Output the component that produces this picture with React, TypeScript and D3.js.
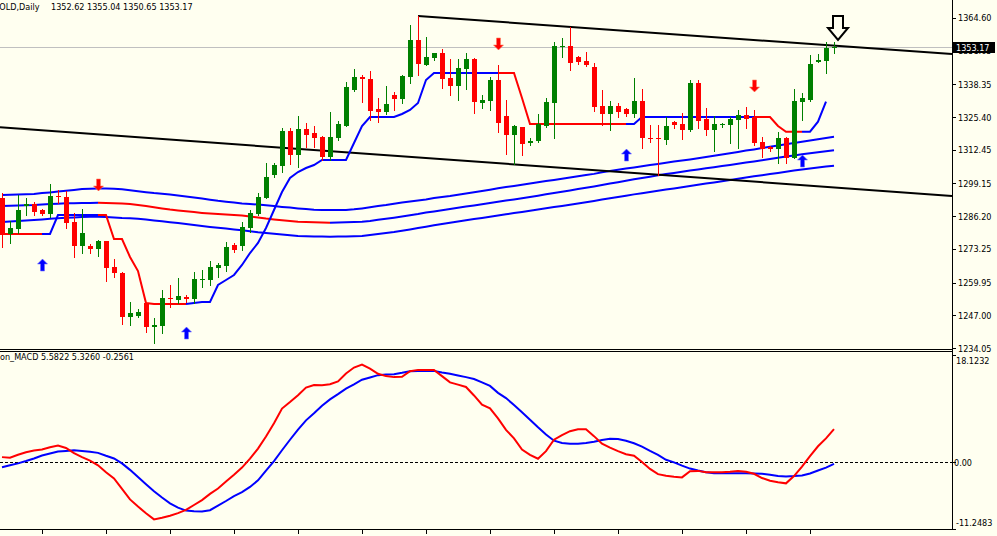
import * as d3 from "d3";

// GOLD daily candles, bar 0 .. bar 104 (last bar is the live one)
const openP = [
  1293.27, 1279.15, 1281.13, 1290.23, 1291.02, 1288.64, 1286.94, 1294.18, 1293.67, 1284.02,
  1274.4, 1274.4, 1273.33, 1276.5, 1265.98, 1263.84, 1246.43, 1246.83, 1251.73, 1242.48,
  1242.87, 1253.95, 1253.04, 1254.11, 1253.32, 1261.0, 1260.95, 1265.82, 1266.61, 1274.8,
  1274.4, 1281.4, 1287.06, 1293.27, 1302.49, 1306.05, 1320.01, 1310.4, 1320.81, 1319.22,
  1317.64, 1309.73, 1317.25, 1322.0, 1336.12, 1341.38, 1340.47, 1328.48, 1327.53, 1334.14,
  1332.56, 1341.38, 1355.9, 1346.0, 1348.89, 1350.87, 1340.74, 1337.7, 1344.3, 1348.26,
  1331.09, 1331.76, 1340.07, 1325.83, 1318.31, 1321.6, 1315.27, 1316.06, 1321.87, 1331.09,
  1353.25, 1353.52, 1349.05, 1347.71, 1345.33, 1329.79, 1326.5, 1329.9, 1328.72, 1326.5,
  1331.88, 1317.25, 1317.25, 1316.34, 1323.34, 1322.67, 1320.29, 1339.0, 1324.52, 1320.29,
  1322.27, 1322.27, 1324.25, 1326.23, 1325.55, 1315.43, 1313.45, 1312.66, 1317.01, 1309.34,
  1331.49, 1332.16, 1347.31, 1347.71, 1352.62,
];
const highP = [
  1295.37, 1284.41, 1294.58, 1293.39, 1291.93, 1289.04, 1298.93, 1296.56, 1296.28, 1287.46,
  1288.92, 1275.19, 1276.78, 1276.5, 1269.14, 1264.0, 1252.37, 1249.36, 1251.85, 1245.8,
  1257.0, 1258.97, 1261.62, 1255.02, 1264.24, 1264.91, 1268.59, 1267.56, 1276.1, 1275.59,
  1284.02, 1288.64, 1295.25, 1307.12, 1307.36, 1320.96, 1321.2, 1325.83, 1322.94, 1321.87,
  1317.92, 1327.53, 1323.85, 1339.4, 1344.31, 1342.05, 1343.63, 1332.83, 1337.7, 1335.44,
  1342.05, 1361.83, 1365.39, 1357.2, 1350.87, 1352.22, 1348.26, 1348.26, 1350.87, 1348.66,
  1334.14, 1341.38, 1346.0, 1332.16, 1322.27, 1321.6, 1317.01, 1326.62, 1332.83, 1355.22,
  1356.57, 1361.16, 1349.57, 1351.27, 1346.68, 1336.12, 1331.88, 1330.85, 1329.11, 1340.74,
  1336.39, 1322.27, 1322.27, 1325.32, 1323.85, 1327.14, 1340.07, 1340.07, 1328.88, 1325.83,
  1323.18, 1325.55, 1328.2, 1329.51, 1328.2, 1317.64, 1313.96, 1319.62, 1317.64, 1336.51,
  1334.81, 1349.96, 1350.24, 1355.22, 1355.04,
];
const lowP = [
  1274.12, 1275.71, 1279.43, 1286.67, 1286.67, 1286.67, 1285.99, 1291.29, 1281.64, 1269.93,
  1271.51, 1271.51, 1270.45, 1260.67, 1262.26, 1243.55, 1243.15, 1246.43, 1240.5, 1236.15,
  1239.87, 1250.15, 1251.73, 1252.25, 1251.73, 1258.3, 1258.97, 1262.26, 1264.63, 1272.03,
  1272.82, 1280.06, 1286.67, 1293.27, 1301.82, 1303.79, 1306.84, 1305.54, 1313.45, 1313.69,
  1308.42, 1308.42, 1316.34, 1322.0, 1335.72, 1331.49, 1324.25, 1323.58, 1326.62, 1328.2,
  1331.09, 1339.0, 1342.05, 1346.0, 1347.98, 1337.03, 1334.14, 1332.16, 1336.51, 1327.14,
  1328.88, 1328.2, 1319.62, 1310.8, 1306.84, 1310.4, 1314.36, 1315.66, 1321.6, 1317.25,
  1349.29, 1344.03, 1346.4, 1345.73, 1327.93, 1322.27, 1320.29, 1325.32, 1325.83, 1325.55,
  1313.05, 1315.43, 1302.49, 1314.75, 1320.96, 1316.73, 1320.01, 1320.96, 1318.31, 1312.1,
  1321.6, 1315.03, 1313.29, 1320.96, 1314.36, 1309.73, 1311.99, 1307.12, 1307.12, 1309.1,
  1324.25, 1331.88, 1347.31, 1342.96, 1350.65,
];
const closeP = [
  1278.75, 1281.4, 1288.64, 1291.02, 1287.97, 1286.94, 1294.18, 1293.67, 1283.62, 1274.4,
  1279.66, 1273.33, 1276.5, 1265.82, 1263.6, 1246.43, 1247.78, 1248.41, 1242.48, 1243.15,
  1253.71, 1253.32, 1254.62, 1253.43, 1261.23, 1261.47, 1265.98, 1266.89, 1273.89, 1272.82,
  1282.04, 1287.58, 1293.91, 1301.82, 1306.45, 1320.01, 1310.4, 1320.81, 1318.31, 1317.25,
  1309.73, 1317.64, 1322.67, 1337.42, 1341.38, 1340.35, 1327.93, 1327.53, 1330.58, 1332.56,
  1341.77, 1355.9, 1346.28, 1349.29, 1350.87, 1340.47, 1337.7, 1344.7, 1348.26, 1331.49,
  1332.16, 1340.07, 1323.18, 1318.31, 1321.87, 1314.75, 1315.94, 1322.67, 1331.25, 1353.52,
  1353.64, 1346.92, 1347.07, 1346.0, 1329.51, 1326.5, 1329.9, 1327.53, 1326.5, 1331.88,
  1317.01, 1316.85, 1316.61, 1321.87, 1322.27, 1320.29, 1338.77, 1323.97, 1320.29, 1322.67,
  1322.67, 1324.64, 1326.23, 1324.64, 1315.03, 1312.66, 1312.66, 1317.01, 1309.1, 1331.76,
  1332.83, 1346.4, 1347.98, 1352.85, 1353.17,
];

// envelope bands
const upperBand = [
  1294.58, 1294.7, 1294.78, 1294.89, 1294.97, 1295.33, 1295.61, 1295.92, 1296.24, 1296.6,
  1296.91, 1297.07, 1297.19, 1297.15, 1297.03, 1296.83, 1296.44, 1296.04, 1295.69, 1295.33,
  1295.05, 1294.74, 1294.38, 1294.02, 1293.59, 1293.15, 1292.72, 1292.28, 1291.93, 1291.57,
  1291.25, 1291.02, 1290.78, 1290.5, 1290.19, 1289.87, 1289.59, 1289.28, 1289.0, 1288.72,
  1288.64, 1288.64, 1288.64, 1288.64, 1288.92, 1289.28, 1289.71, 1290.19, 1290.62, 1291.14,
  1291.57, 1291.97, 1292.36, 1292.8, 1293.39, 1293.79, 1294.18, 1294.66, 1295.13, 1295.65,
  1296.16, 1296.67, 1297.23, 1297.7, 1298.18, 1298.65, 1299.13, 1299.6, 1300.08, 1300.55,
  1301.03, 1301.5, 1301.98, 1302.45, 1302.93, 1303.6, 1304.07, 1304.55, 1305.02, 1305.5,
  1305.97, 1306.45, 1306.88, 1307.32, 1307.79, 1308.23, 1308.66, 1309.1, 1309.61, 1310.09,
  1310.6, 1311.11, 1311.63, 1312.14, 1312.62, 1313.13, 1313.65, 1314.16, 1314.67, 1315.19,
  1315.66, 1316.14, 1316.61, 1317.13, 1317.6,
];
const midBand = [
  1290.23, 1290.35, 1290.42, 1290.54, 1290.62, 1290.82, 1290.98, 1291.14, 1291.29, 1291.33,
  1291.41, 1291.45, 1291.53, 1291.41, 1291.33, 1291.18, 1290.98, 1290.62, 1290.19, 1289.71,
  1289.24, 1288.8, 1288.45, 1288.13, 1287.81, 1287.5, 1287.26, 1287.02, 1286.82, 1286.67,
  1286.43, 1286.03, 1285.64, 1285.24, 1284.92, 1284.61, 1284.29, 1284.02, 1283.9, 1283.82,
  1283.7, 1283.62, 1283.7, 1283.82, 1283.9, 1284.02, 1284.33, 1284.77, 1285.16, 1285.6,
  1286.07, 1286.55, 1287.02, 1287.62, 1288.09, 1288.57, 1289.04, 1289.51, 1289.99, 1290.46,
  1290.94, 1291.41, 1291.89, 1292.36, 1292.84, 1293.31, 1293.79, 1294.3, 1294.85, 1295.37,
  1295.88, 1296.4, 1296.91, 1297.43, 1297.94, 1298.49, 1299.09, 1299.64, 1300.2, 1300.79,
  1301.3, 1301.82, 1302.37, 1302.85, 1303.32, 1303.8, 1304.27, 1304.71, 1305.14, 1305.58,
  1306.01, 1306.45, 1306.92, 1307.4, 1307.87, 1308.35, 1308.82, 1309.29, 1309.77, 1310.24,
  1310.68, 1311.07, 1311.47, 1311.87, 1312.3,
];
const lowerBand = [
  1283.94, 1284.13, 1284.33, 1284.53, 1284.69, 1284.92, 1285.16, 1285.36, 1285.56, 1285.72,
  1285.87, 1285.95, 1285.99, 1285.87, 1285.72, 1285.52, 1285.4, 1285.16, 1284.85, 1284.53,
  1284.17, 1283.82, 1283.46, 1283.11, 1282.67, 1282.27, 1281.92, 1281.6, 1281.29, 1280.97,
  1280.61, 1280.26, 1279.86, 1279.55, 1279.23, 1278.95, 1278.64, 1278.36, 1278.28, 1278.2,
  1278.16, 1278.08, 1278.16, 1278.2, 1278.28, 1278.36, 1278.71, 1279.11, 1279.51, 1279.9,
  1280.42, 1280.97, 1281.48, 1282.04, 1282.59, 1283.11, 1283.62, 1284.1, 1284.57, 1285.04,
  1285.52, 1285.99, 1286.47, 1286.94, 1287.42, 1287.89, 1288.37, 1288.84, 1289.32, 1289.79,
  1290.27, 1290.74, 1291.22, 1291.73, 1292.24, 1292.76, 1293.27, 1293.79, 1294.3, 1294.82,
  1295.29, 1295.76, 1296.24, 1296.71, 1297.19, 1297.66, 1298.14, 1298.61, 1299.09, 1299.56,
  1300.04, 1300.51, 1300.99, 1301.5, 1301.98, 1302.41, 1302.85, 1303.28, 1303.76, 1304.23,
  1304.67, 1305.06, 1305.46, 1305.81, 1306.17,
];

// trailing stop line (bars 0..103) and the bars where its trend flips
const stopLine = [
  1279.15, 1279.15, 1279.15, 1279.15, 1279.15, 1279.15, 1279.15, 1286.67, 1286.67, 1286.67,
  1286.67, 1286.67, 1286.67, 1286.67, 1277.17, 1277.17, 1270.05, 1264.51, 1251.85, 1251.46,
  1251.46, 1251.46, 1251.46, 1251.46, 1251.85, 1252.25, 1252.25, 1258.97, 1260.95, 1262.93,
  1266.89, 1271.63, 1275.59, 1281.52, 1288.64, 1295.76, 1301.3, 1303.68, 1305.26, 1306.45,
  1308.42, 1308.42, 1308.42, 1308.42, 1315.15, 1321.87, 1325.43, 1325.43, 1325.43, 1325.43,
  1326.62, 1328.2, 1330.97, 1340.07, 1342.84, 1342.84, 1342.84, 1342.84, 1342.84, 1342.84,
  1342.84, 1342.84, 1342.84, 1342.84, 1342.84, 1332.95, 1322.67, 1322.67, 1322.67, 1322.67,
  1322.67, 1322.67, 1322.67, 1322.67, 1322.67, 1322.67, 1322.67, 1322.67, 1322.67, 1322.67,
  1325.43, 1325.43, 1325.43, 1325.43, 1325.43, 1325.43, 1325.43, 1325.43, 1325.43, 1325.43,
  1325.43, 1325.43, 1325.43, 1325.43, 1325.43, 1325.43, 1325.43, 1321.87, 1319.62, 1319.62,
  1319.62, 1319.62, 1323.58, 1331.49,
];
const stopFlips: [number, number][] = [
  [0, -1], [6, 1], [13, -1], [24, 1], [63, -1], [79, 1], [95, -1], [101, 1],
];

// signal arrows
const buyBars = [5, 23, 78, 100];
const buyPrices = [1266.89, 1239.99, 1310.4, 1308.03];
const sellBars = [12, 62, 94];
const sellPrices = [1298.53, 1354.31, 1337.7];
const markBar = 104.5;
const markPrice = 1355.9;

// hand drawn trend lines: [bar, price]
const trendTop: [number, number][] = [[52, 1365.39], [104, 1353.64]];
const trendBottom: [number, number][] = [[0, 1321.28], [104, 1297.59]];

// MACD panel
const macdMain = [
  0.87, 0.76, 1.26, 1.7, 1.98, 2.15, 2.53, 2.81, 2.42, 1.54,
  0.87, 0.27, -0.51, -1.67, -2.72, -4.49, -6.26, -7.47, -8.58, -9.63,
  -9.35, -9.02, -8.58, -8.03, -7.2, -6.37, -5.32, -4.43, -3.22, -2.11,
  -0.89, 0.6, 2.31, 4.36, 6.57, 9.06, 10.16, 11.32, 12.59, 13.04,
  12.98, 13.15, 13.64, 14.97, 15.97, 16.46, 15.8, 14.92, 14.53, 14.36,
  14.42, 15.36, 15.58, 15.58, 15.58, 14.53, 13.48, 13.09, 12.7, 11.27,
  9.72, 9.11, 7.4, 5.46, 4.03, 2.15, 1.26, 0.6, 1.87, 3.8,
  4.58, 5.24, 5.57, 5.57, 4.41, 3.14, 2.48, 1.87, 1.37, 1.1,
  0.04, -1.12, -2.0, -2.28, -2.44, -2.55, -1.5, -1.45, -1.67, -1.67,
  -1.67, -1.61, -1.45, -1.61, -1.94, -2.66, -3.11, -3.38, -3.55, -2.33,
  -0.73, 1.04, 2.7, 4.03, 5.58,
];
const macdSignal = [
  -0.84, -0.51, -0.18, 0.21, 0.65, 1.15, 1.48, 1.81, 1.92, 2.03,
  1.92, 1.76, 1.59, 1.1, 0.65, -0.18, -1.28, -2.5, -3.71, -4.87,
  -5.93, -6.92, -7.64, -8.14, -8.25, -8.3, -8.08, -7.31, -6.53, -5.7,
  -5.04, -4.16, -3.05, -1.39, 0.21, 2.03, 3.8, 5.52, 7.07, 8.28,
  9.55, 10.6, 11.49, 12.43, 13.15, 13.92, 14.31, 14.69, 14.8, 14.86,
  15.08, 15.36, 15.41, 15.41, 15.41, 15.14, 14.92, 14.64, 14.36, 14.03,
  13.48, 12.87, 11.71, 10.82, 9.66, 8.45, 7.18, 5.9, 4.69, 3.64,
  3.25, 3.14, 3.14, 3.25, 3.47, 3.75, 3.97, 3.92, 3.64, 3.2,
  2.64, 1.92, 1.26, 0.43, -0.01, -0.56, -1.06, -1.39, -1.67, -1.83,
  -1.83, -1.83, -1.83, -1.83, -1.89, -1.94, -2.11, -2.33, -2.39, -2.33,
  -2.22, -1.89, -1.39, -0.89, -0.26,
];
// indicator readout shown in the panel header
const macdReadout = ["5.5822", "5.3260", "-0.2561"];

const priceTicks = [1364.6, 1351.65, 1338.35, 1325.4, 1312.45, 1299.15, 1286.2, 1273.25, 1259.95, 1247.0, 1234.05];
const macdTicks = [18.1232, 0, -11.2483];
const timeTickBars = [-3, 5, 13, 21, 29, 37, 45, 53, 61, 69, 77, 85, 93, 101];
const timeTickLabels = [
  "14 Nov 2017", "24 Nov 2017", "6 Dec 2017", "14 Dec 2017", "26 Dec 2017", "5 Jan 2018", "16 Jan 2018",
  "26 Jan 2018", "7 Feb 2018", "19 Feb 2018", "1 Mar 2018", "13 Mar 2018", "23 Mar 2018", "4 Apr 2018",
];

const W = 997;
const H = 536;
const AXIS_X = 952;
const BG = "#FFFFF0";
const FONT = "Tahoma, 'DejaVu Sans Condensed', 'Liberation Sans', sans-serif";

const x = d3.scaleLinear().domain([0, 104]).range([2, 834]);
const y = d3.scaleLinear().domain([1234.05, 1371.72]).range([348, 0]);
const ym = d3.scaleLinear().domain([-11.2483, 18.1232]).range([529, 354.8]);

// split a series into same-coloured runs; segment i-1 -> i takes colourOf(i)
function colouredRuns(values: number[], colourOf: (i: number) => string, sy: (v: number) => number) {
  const line = d3.line<[number, number]>().x((d) => x(d[0])).y((d) => sy(d[1]));
  const out: { colour: string; d: string }[] = [];
  let pts: [number, number][] = [[0, values[0]]];
  let cur = colourOf(1);
  for (let i = 1; i < values.length; i++) {
    const c = colourOf(i);
    if (c !== cur) {
      out.push({ colour: cur, d: line(pts) ?? "" });
      pts = [[i - 1, values[i - 1]]];
      cur = c;
    }
    pts.push([i, values[i]]);
  }
  out.push({ colour: cur, d: line(pts) ?? "" });
  return out;
}

function stopDir(i: number) {
  let dir = -1;
  for (const [b, d] of stopFlips) if (i >= b) dir = d;
  return dir;
}

function trendPath(pts: [number, number][], fromBar: number) {
  const [[b0, p0], [b1, p1]] = pts;
  const slope = (p1 - p0) / (b1 - b0);
  const endBar = x.invert(AXIS_X);
  const s = Math.max(fromBar, x.invert(0));
  return `M${x(s)},${y(p0 + slope * (s - b0))}L${x(endBar)},${y(p0 + slope * (endBar - b0))}`;
}

function upArrow(cx: number, cy: number) {
  return `M${cx},${cy - 6}L${cx + 5},${cy - 1}L${cx + 2},${cy - 1}L${cx + 2},${cy + 6}L${cx - 2},${cy + 6}L${cx - 2},${cy - 1}L${cx - 5},${cy - 1}Z`;
}
function downArrow(cx: number, cy: number) {
  return `M${cx},${cy + 6}L${cx + 5},${cy + 1}L${cx + 2},${cy + 1}L${cx + 2},${cy - 6}L${cx - 2},${cy - 6}L${cx - 2},${cy + 1}L${cx - 5},${cy + 1}Z`;
}

export default function App() {
  const priceLine = d3.line<number>().x((_, i) => x(i)).y((d) => y(d));
  const macdLine = d3.line<number>().x((_, i) => x(i)).y((d) => ym(d));

  const midRuns = colouredRuns(midBand, (i) => (midBand[i] >= midBand[i - 1] ? "#0000FF" : "#FF0000"), y);
  const stopRuns = colouredRuns(stopLine, (i) => (stopDir(i) > 0 ? "#0000FF" : "#FF0000"), y);

  const last = closeP[closeP.length - 1];
  const mx = x(markBar);
  const mTip = y(markPrice);

  return (
    <svg width={W} height={H} style={{ position: "absolute", left: 0, top: 0, background: BG }} fontFamily={FONT}>
      <defs>
        <clipPath id="pricePane">
          <rect x={0} y={0} width={AXIS_X} height={349} />
        </clipPath>
        <clipPath id="macdPane">
          <rect x={0} y={352} width={AXIS_X} height={177} />
        </clipPath>
      </defs>
      <rect x={0} y={0} width={W} height={H} fill={BG} />

      {/* header */}
      <text x={-7} y={10} fontSize={9} fill="#000">
        GOLD,Daily
      </text>
      <text x={51} y={10} fontSize={9} fill="#000">
        {`${openP[104].toFixed(2)} ${highP[104].toFixed(2)} ${lowP[104].toFixed(2)} ${last.toFixed(2)}`}
      </text>

      <g clipPath="url(#pricePane)">
        {/* current price line */}
        <line x1={0} x2={AXIS_X} y1={Math.round(y(last)) + 0.5} y2={Math.round(y(last)) + 0.5} stroke="#C0C0C0" />

        {/* bands */}
        <path d={priceLine(upperBand) ?? ""} fill="none" stroke="#0000FF" strokeWidth={2} />
        <path d={priceLine(lowerBand) ?? ""} fill="none" stroke="#0000FF" strokeWidth={2} />
        {midRuns.map((r, i) => (
          <path key={"m" + i} d={r.d} fill="none" stroke={r.colour} strokeWidth={2} />
        ))}

        {/* trend lines */}
        <path d={trendPath(trendTop, trendTop[0][0])} stroke="#000" strokeWidth={2} fill="none" />
        <path d={trendPath(trendBottom, -10)} stroke="#000" strokeWidth={2} fill="none" />

        {/* stop line */}
        {stopRuns.map((r, i) => (
          <path key={"s" + i} d={r.d} fill="none" stroke={r.colour} strokeWidth={2} />
        ))}

        {/* candles */}
        {closeP.map((c, i) => {
          const o = openP[i];
          const col = c >= o ? "#008000" : "#FF0000";
          const cx = Math.round(x(i));
          const top = Math.round(y(Math.max(o, c)));
          const bot = Math.round(y(Math.min(o, c)));
          return (
            <g key={"c" + i}>
              <line x1={cx + 0.5} x2={cx + 0.5} y1={Math.round(y(highP[i]))} y2={Math.round(y(lowP[i])) + 1} stroke={col} />
              <rect x={cx - 2} y={top} width={5} height={Math.max(1, bot - top)} fill={col} />
            </g>
          );
        })}

        {/* arrows */}
        {buyBars.map((b, i) => (
          <path key={"b" + i} d={upArrow(x(b) + 0.5, y(buyPrices[i]))} fill="#0000FF" stroke="#7070FF" strokeWidth={0.6} />
        ))}
        {sellBars.map((b, i) => (
          <path key={"r" + i} d={downArrow(x(b) + 0.5, y(sellPrices[i]))} fill="#FF0000" stroke="#FF8060" strokeWidth={0.6} />
        ))}
        <path
          d={`M${mx - 5},${mTip - 24}L${mx + 5},${mTip - 24}L${mx + 5},${mTip - 12}L${mx + 10},${mTip - 12}L${mx},${mTip}L${mx - 10},${mTip - 12}L${mx - 5},${mTip - 12}Z`}
          fill={BG}
          stroke="#000"
          strokeWidth={2}
          strokeLinejoin="miter"
        />
      </g>

      {/* MACD */}
      <g clipPath="url(#macdPane)">
        <line x1={0} x2={AXIS_X} y1={Math.round(ym(0)) + 0.5} y2={Math.round(ym(0)) + 0.5} stroke="#000" strokeDasharray="3,2" />
        <path d={macdLine(macdSignal) ?? ""} fill="none" stroke="#0000FF" strokeWidth={2} />
        <path d={macdLine(macdMain) ?? ""} fill="none" stroke="#FF0000" strokeWidth={2} />
      </g>
      <text x={0} y={360} fontSize={9} fill="#000">
        {`on_MACD ${macdReadout.join(" ")}`}
      </text>

      {/* frames */}
      <line x1={0} x2={AXIS_X} y1={349.5} y2={349.5} stroke="#000" />
      <line x1={0} x2={AXIS_X} y1={351.5} y2={351.5} stroke="#000" />
      <line x1={0} x2={AXIS_X} y1={529.5} y2={529.5} stroke="#000" />
      <line x1={AXIS_X + 0.5} x2={AXIS_X + 0.5} y1={0} y2={530} stroke="#000" />

      {/* price axis */}
      {priceTicks.map((p) => (
        <g key={"p" + p}>
          <line x1={AXIS_X} x2={AXIS_X + 4} y1={Math.round(y(p)) + 0.5} y2={Math.round(y(p)) + 0.5} stroke="#000" />
          <text x={958} y={y(p) + 3.5} fontSize={9} fill="#000">
            {p.toFixed(2)}
          </text>
        </g>
      ))}
      <rect x={953} y={Math.round(y(last)) - 5} width={42} height={11} fill="#000" />
      <text x={956} y={Math.round(y(last)) + 4} fontSize={9} fill="#FFF">
        {last.toFixed(2)}
      </text>

      {/* macd axis */}
      {macdTicks.map((v, i) => (
        <g key={"mt" + i}>
          <line x1={AXIS_X} x2={AXIS_X + 4} y1={Math.round(ym(v)) + 0.5} y2={Math.round(ym(v)) + 0.5} stroke="#000" />
          <text
            x={v === 0 ? 954 : 956}
            y={i === 0 ? 364 : i === 2 ? 526 : ym(v) + 3.5}
            fontSize={9}
            fill="#000"
          >
            {v === 0 ? "0.00" : v.toFixed(4)}
          </text>
        </g>
      ))}

      {/* time axis */}
      {timeTickBars.map((b, i) => (
        <g key={"t" + b}>
          <line x1={x(b) + 0.5} x2={x(b) + 0.5} y1={530} y2={534} stroke="#000" />
          <text x={x(b) + 3} y={543} fontSize={9} fill="#000">
            {timeTickLabels[i]}
          </text>
        </g>
      ))}
    </svg>
  );
}
